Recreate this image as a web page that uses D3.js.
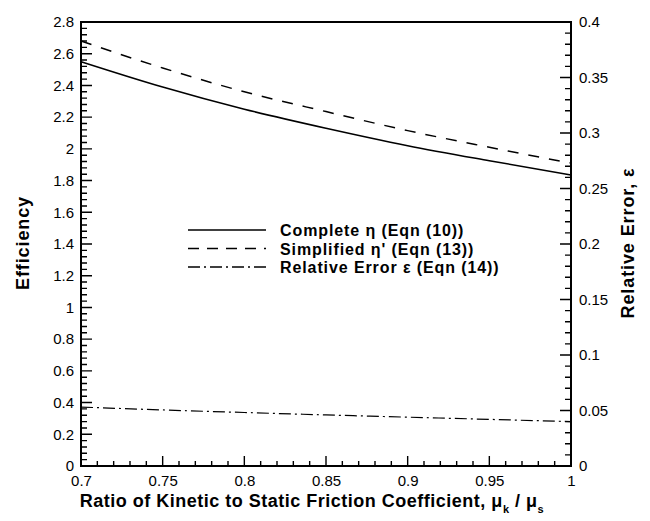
<!DOCTYPE html>
<html>
<head>
<meta charset="utf-8">
<script src="https://cdn.jsdelivr.net/npm/d3@7"></script>
<style>
  body { margin: 0; background: #fff; }
  text { font-family: "Liberation Sans", Arial, sans-serif; fill: #000; }
  .tick text { font-size: 15px; }
  .title { font-size: 18px; font-weight: bold; letter-spacing: 0.9px; }
  .xtitle { letter-spacing: 0.5px; }
  .legend text { font-size: 16px; font-weight: bold; letter-spacing: 0.9px; }
</style>
</head>
<body>
<div id="chart"></div>
<script>
// data
var ratio = [0.70, 0.75, 0.80, 0.85, 0.90, 0.95, 1.00];
var complete = [2.55, 2.39, 2.25, 2.13, 2.02, 1.925, 1.835];
var simplified = [2.68, 2.51, 2.36, 2.235, 2.115, 2.01, 1.91];
var relError = [0.0531, 0.0505, 0.0482, 0.0460, 0.0440, 0.0420, 0.0400];

var xTicks = [0.7, 0.75, 0.8, 0.85, 0.9, 0.95, 1];
var yTicks = [0, 0.2, 0.4, 0.6, 0.8, 1, 1.2, 1.4, 1.6, 1.8, 2, 2.2, 2.4, 2.6, 2.8];
var y2Ticks = [0, 0.05, 0.1, 0.15, 0.2, 0.25, 0.3, 0.35, 0.4];

var width = 650, height = 521;
var plotLeft = 81, plotRight = 571, plotTop = 22, plotBottom = 466;

var svg = d3.select("#chart")
    .append("svg")
    .attr("width", width)
    .attr("height", height);

var xScale = d3.scaleLinear().domain([0.7, 1]).range([plotLeft, plotRight]);
var yScale = d3.scaleLinear().domain([0, 2.8]).range([plotBottom, plotTop]);
var y2Scale = d3.scaleLinear().domain([0, 0.4]).range([plotBottom, plotTop]);

// frame
svg.append("path")
    .attr("d", `M${plotLeft},${plotTop}H${plotRight}V${plotBottom}H${plotLeft}Z`)
    .attr("fill", "none").attr("stroke", "#000").attr("stroke-width", 2);

// minor ticks
var xMinor = d3.range(0, 31).map(function(i) { return 0.7 + i * 0.01; });
var yMinor = d3.range(0, 71).map(function(i) { return i * 0.04; });
var y2Minor = d3.range(0, 41).map(function(i) { return i * 0.01; });

// ticks drawn as one path, all pointing into the plot
function tickPath(values, scale, at, len, vertical) {
  return values.map(function(v) {
    var p = scale(v);
    return vertical ? `M${p},${at}v${len}` : `M${at},${p}h${len}`;
  }).join("");
}

var tickD = tickPath(xMinor, xScale, plotBottom, -5, true) +
    tickPath(xTicks, xScale, plotBottom, -10, true) +
    tickPath(yMinor, yScale, plotLeft, 6, false) +
    tickPath(yTicks, yScale, plotLeft, 11, false) +
    tickPath(y2Minor, y2Scale, plotRight, -6, false) +
    tickPath(y2Ticks, y2Scale, plotRight, -11, false);

svg.append("path")
    .attr("d", tickD)
    .attr("fill", "none")
    .attr("stroke", "#000")
    .attr("stroke-width", 1.4);

// tick labels through the axis generators
var xAxis = svg.append("g")
    .attr("transform", `translate(0, ${plotBottom})`)
    .call(d3.axisBottom(xScale).tickValues(xTicks).tickSize(0).tickPadding(9).tickFormat(d3.format("")));
xAxis.select(".domain").remove();

var yAxis = svg.append("g")
    .attr("transform", `translate(${plotLeft}, 0)`)
    .call(d3.axisLeft(yScale).tickValues(yTicks).tickSize(0).tickPadding(7).tickFormat(d3.format("")));
yAxis.select(".domain").remove();

var y2Axis = svg.append("g")
    .attr("transform", `translate(${plotRight}, 0)`)
    .call(d3.axisRight(y2Scale).tickValues(y2Ticks).tickSize(0).tickPadding(8).tickFormat(d3.format("")));
y2Axis.select(".domain").remove();

// lines
var lineL = d3.line()
    .x(function(d, i) { return xScale(ratio[i]); })
    .y(function(d) { return yScale(d); })
    .curve(d3.curveMonotoneX);
var lineR = d3.line()
    .x(function(d, i) { return xScale(ratio[i]); })
    .y(function(d) { return y2Scale(d); })
    .curve(d3.curveMonotoneX);

svg.append("path").datum(complete).attr("d", lineL)
    .attr("fill", "none").attr("stroke", "#000").attr("stroke-width", 1.5);
svg.append("path").datum(simplified).attr("d", lineL)
    .attr("fill", "none").attr("stroke", "#000").attr("stroke-width", 1.5)
    .attr("stroke-dasharray", "11,10");
svg.append("path").datum(relError).attr("d", lineR)
    .attr("fill", "none").attr("stroke", "#000").attr("stroke-width", 1.2)
    .attr("stroke-dasharray", "12,4,2,4");

// legend
var legendItems = [
  {label: "Complete \u03b7 (Eqn (10))", dash: null},
  {label: "Simplified \u03b7' (Eqn (13))", dash: "11,8"},
  {label: "Relative Error \u03b5 (Eqn (14))", dash: "12,4,2,4"}
];
var legend = svg.append("g").attr("class", "legend");
legendItems.forEach(function(item, i) {
  var ly = 230 + i * 18.5;
  legend.append("line")
      .attr("x1", 188).attr("x2", 266)
      .attr("y1", ly).attr("y2", ly)
      .attr("stroke", "#000").attr("stroke-width", 1.3)
      .attr("stroke-dasharray", item.dash);
  legend.append("text")
      .attr("x", 280).attr("y", ly + 6)
      .text(item.label);
});

// axis titles
svg.append("text")
    .attr("class", "title xtitle")
    .attr("x", 312).attr("y", 507)
    .attr("text-anchor", "middle")
    .html("Ratio of Kinetic to Static Friction Coefficient, \u03bc<tspan baseline-shift='sub' font-size='11px'>k</tspan> / \u03bc<tspan baseline-shift='sub' font-size='11px'>s</tspan>");

svg.append("text")
    .attr("class", "title")
    .attr("transform", `translate(29, 243) rotate(-90)`)
    .attr("text-anchor", "middle")
    .text("Efficiency");

svg.append("text")
    .attr("class", "title")
    .attr("transform", `translate(634, 243) rotate(-90)`)
    .attr("text-anchor", "middle")
    .text("Relative Error, \u03b5");
</script>
</body>
</html>
